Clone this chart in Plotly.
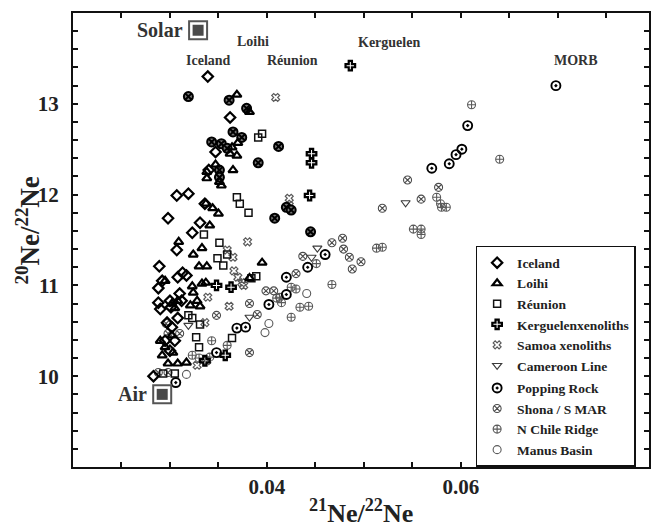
import plotly.graph_objects as go

# ---------------- data (21Ne/22Ne, 20Ne/22Ne) ----------------
iceland_x = [0.0339, 0.0362, 0.0347, 0.0340, 0.0307, 0.0319, 0.0298, 0.0323, 0.0307, 0.0289,
             0.0292, 0.0288, 0.0308, 0.0313, 0.0317, 0.0288, 0.0290, 0.0300, 0.0301, 0.0310,
             0.0312, 0.0302, 0.0295, 0.0283, 0.0308, 0.0297, 0.0305, 0.0300, 0.0336, 0.0331]
iceland_y = [13.30, 12.85, 12.47, 12.27, 11.99, 12.01, 11.74, 11.58, 11.39, 11.21,
             11.05, 10.97, 11.09, 11.14, 11.11, 10.81, 10.74, 10.83, 10.76, 10.91,
             10.83, 10.54, 10.39, 10.00, 10.64, 10.59, 10.39, 10.28, 11.90, 11.69]

loihi_x = [0.0369, 0.0382, 0.0362, 0.0369, 0.0364, 0.0370, 0.0347, 0.0338, 0.0338, 0.0351,
           0.0353, 0.0365, 0.0337, 0.0344, 0.0350, 0.0341, 0.0309, 0.0324, 0.0333, 0.0330,
           0.0338, 0.0395, 0.0295, 0.0323, 0.0333, 0.0337, 0.0382, 0.0324, 0.0328, 0.0321,
           0.0331, 0.0308, 0.0305, 0.0302, 0.0292, 0.0303, 0.0295, 0.0298, 0.0308, 0.0317,
           0.0302, 0.0290]
loihi_y = [13.10, 12.91, 12.45, 12.43, 12.52, 12.57, 12.33, 12.25, 12.18, 12.14,
           12.10, 12.27, 11.90, 11.85, 11.79, 11.66, 11.48, 11.34, 11.41, 11.21,
           11.21, 11.25, 11.05, 10.99, 11.02, 11.03, 11.08, 10.92, 10.83, 10.78,
           10.77, 10.83, 10.75, 10.80, 10.23, 10.26, 10.32, 10.14, 10.14, 10.15,
           10.45, 10.39]

reunion_x = [0.0391, 0.0395, 0.0369, 0.0372, 0.0381, 0.0335, 0.0351, 0.0349, 0.0359, 0.0355,
             0.0389, 0.0384, 0.0319, 0.0331, 0.0327, 0.0330, 0.0364, 0.0293, 0.0305, 0.0323]
reunion_y = [12.63, 12.67, 11.97, 11.90, 11.80, 11.56, 11.47, 11.30, 11.34, 11.22,
             11.10, 11.08, 10.67, 10.57, 10.43, 10.32, 10.42, 10.03, 10.03, 10.64]

kerg_x = [0.0486, 0.0446, 0.0446, 0.0444, 0.0348, 0.0363, 0.0357, 0.0336]
kerg_y = [13.42, 12.45, 12.35, 11.99, 11.00, 10.98, 10.23, 10.17]

samoa_x = [0.0409, 0.0423, 0.0423, 0.0380, 0.0365, 0.0359, 0.0366, 0.0374, 0.0376, 0.0370,
           0.0339, 0.0361, 0.0336, 0.0338, 0.0328]
samoa_y = [13.07, 11.96, 11.88, 11.48, 11.31, 11.39, 11.16, 11.03, 11.00, 11.09,
           10.87, 10.77, 10.59, 10.17, 10.12]

cameroon_x = [0.0543, 0.0452, 0.0446, 0.0382, 0.0319]
cameroon_y = [11.91, 11.41, 11.31, 10.65, 10.56]

popping_x = [0.0698, 0.0607, 0.0601, 0.0595, 0.0588, 0.0570, 0.0460, 0.0442, 0.0420, 0.0420,
             0.0402, 0.0378, 0.0369, 0.0348, 0.0306]
popping_y = [13.20, 12.76, 12.50, 12.44, 12.34, 12.29, 11.34, 11.20, 11.09, 10.90,
             10.79, 10.54, 10.53, 10.26, 9.93]

shona_x = [0.0545, 0.0577, 0.0559, 0.0519, 0.0467, 0.0478, 0.0479, 0.0485, 0.0497, 0.0488,
           0.0437, 0.0430, 0.0399, 0.0407, 0.0390, 0.0382, 0.0348, 0.0298, 0.0310, 0.0296,
           0.0288, 0.0298, 0.0382]
shona_y = [12.16, 12.08, 11.95, 11.85, 11.47, 11.52, 11.40, 11.31, 11.26, 11.18,
           11.32, 11.13, 10.94, 10.94, 10.68, 10.26, 10.67, 10.47, 10.47, 10.58,
           10.04, 10.04, 10.80]

shona_dark_x = [0.0319, 0.0361, 0.0379, 0.0365, 0.0374, 0.0412, 0.0391, 0.0343, 0.0353, 0.0359,
                0.0351, 0.0351, 0.0420, 0.0425, 0.0408, 0.0445]
shona_dark_y = [13.08, 13.04, 12.95, 12.69, 12.63, 12.53, 12.35, 12.58, 12.56, 12.51,
                12.27, 12.19, 11.86, 11.83, 11.74, 11.59]

chile_x = [0.0611, 0.0640, 0.0575, 0.0579, 0.0585, 0.0580, 0.0551, 0.0559, 0.0559, 0.0513,
           0.0519, 0.0451, 0.0467, 0.0425, 0.0430, 0.0415, 0.0410, 0.0443, 0.0425, 0.0413,
           0.0434, 0.0343, 0.0359, 0.0330, 0.0341, 0.0323]
chile_y = [12.99, 12.39, 11.97, 11.90, 11.86, 11.86, 11.62, 11.62, 11.56, 11.41,
           11.42, 11.24, 11.01, 10.98, 10.96, 10.81, 10.86, 10.77, 10.65, 10.87,
           10.76, 10.39, 10.34, 10.20, 10.21, 10.23]

manus_x = [0.0441, 0.0402, 0.0398, 0.0317]
manus_y = [10.91, 10.58, 10.48, 10.02]

ref_names = ["Solar", "Air"]
ref_x = [0.0329, 0.0292]
ref_y = [13.81, 9.80]

label_text = ["Iceland", "Loihi", "Réunion", "Kerguelen", "MORB"]
label_x = [0.0340, 0.0386, 0.0426, 0.0526, 0.0719]
label_y = [13.48, 13.69, 13.48, 13.68, 13.48]

x_tickvals = [0.04, 0.06]
x_ticktext = ["0.04", "0.06"]
y_tickvals = [10, 11, 12, 13]
y_ticktext = ["10", "11", "12", "13"]

# ---------------- figure ----------------
SERIF = "Liberation Serif"
fig = go.Figure()

def add(name, xs, ys, symbol, size, color, lw, group="a", rank=1):
    fig.add_trace(go.Scatter(
        x=xs, y=ys, mode="markers", name=name, legendgroup=group, legendrank=rank,
        marker=dict(symbol=symbol, size=size, color=color,
                    line=dict(color=color, width=lw))))

# grey series first (underneath)
add("N Chile Ridge", chile_x, chile_y, "circle-cross-open", 8, "#5a5a5a", 1.1, group="b", rank=9)
add("Manus Basin", manus_x, manus_y, "circle-open", 8, "#5a5a5a", 1.1, group="b", rank=10)
add("Shona / S MAR", shona_x, shona_y, "circle-x-open", 8, "#4a4a4a", 1.1, group="b", rank=8)
add("Samoa xenoliths", samoa_x, samoa_y, "x-open", 7, "#5a5a5a", 1.2, group="a", rank=5)
add("Cameroon Line", cameroon_x, cameroon_y, "triangle-down-open", 8, "#3a3a3a", 1.1, group="a", rank=6)
add("Réunion", reunion_x, reunion_y, "square-open", 7, "#111111", 1.5, group="a", rank=3)
fig.add_trace(go.Scatter(
    x=shona_dark_x, y=shona_dark_y, mode="markers", showlegend=False,
    marker=dict(symbol="circle-x", size=9, color="#777777",
                line=dict(color="#000000", width=2))))
add("Iceland", iceland_x, iceland_y, "diamond-open", 8, "#000000", 2.2, group="a", rank=1)
add("Loihi", loihi_x, loihi_y, "triangle-up-open", 8, "#000000", 2.2, group="a", rank=2)
add("Kerguelenxenoliths", kerg_x, kerg_y, "cross-open", 8, "#000000", 2.2, group="a", rank=4)
add("Popping Rock", popping_x, popping_y, "circle-open-dot", 9, "#000000", 1.9, group="b", rank=7)

# Solar / Air reference squares
fig.add_trace(go.Scatter(x=ref_x, y=ref_y, mode="markers", showlegend=False,
                         marker=dict(symbol="square", size=18, color="#ffffff",
                                     line=dict(color="#555555", width=2))))
fig.add_trace(go.Scatter(x=ref_x, y=ref_y, mode="markers", showlegend=False,
                         marker=dict(symbol="square", size=11, color="#4a4a4a",
                                     line=dict(width=0))))

for n, xv, yv in zip(ref_names, ref_x, ref_y):
    fig.add_annotation(x=xv, y=yv, text=n, showarrow=False, xanchor="right", yanchor="middle",
                       xshift=-13, font=dict(family=SERIF, size=20, color="#333333", weight="bold"))

for t, xv, yv in zip(label_text, label_x, label_y):
    fig.add_annotation(x=xv, y=yv, text=t, showarrow=False, xanchor="center", yanchor="middle",
                       font=dict(family=SERIF, size=14, color="#333333", weight="bold"))

# axis titles
fig.add_annotation(xref="paper", yref="paper", x=0.5, y=-0.058, yanchor="top",
                   text="<sup>21</sup>Ne/<sup>22</sup>Ne", showarrow=False,
                   font=dict(family=SERIF, size=26, color="#222222", weight="bold"))
fig.add_annotation(xref="paper", yref="paper", x=-0.046, y=0.52, xanchor="right",
                   text="<sup>20</sup>Ne/<sup>22</sup>Ne", showarrow=False, textangle=-90,
                   font=dict(family=SERIF, size=27, color="#222222", weight="bold"))

axis_common = dict(showline=True, linecolor="#111111", linewidth=2, mirror="ticks",
                   ticks="inside", ticklen=5, tickwidth=1.5, tickcolor="#111111",
                   showgrid=False, zeroline=False,
                   tickfont=dict(family=SERIF, size=21, color="#222222", weight="bold"))

fig.update_xaxes(range=[0.02, 0.0794], tickmode="array", tickvals=x_tickvals, ticktext=x_ticktext,
                 minor=dict(dtick=0.005, tick0=0.0, ticks="inside", ticklen=5, tickwidth=1.5,
                            tickcolor="#111111", showgrid=False),
                 ticklabelstandoff=0, **axis_common)
fig.update_yaxes(range=[9.0, 14.0], tickmode="array", tickvals=y_tickvals, ticktext=y_ticktext,
                 minor=dict(dtick=0.2, tick0=0.0, ticks="inside", ticklen=5, tickwidth=1.5,
                            tickcolor="#111111", showgrid=False),
                 ticklabelstandoff=8, **axis_common)

fig.update_layout(
    width=653, height=532,
    margin=dict(l=73, r=2, t=13, b=65),
    plot_bgcolor="white", paper_bgcolor="white",
    showlegend=True,
    legend=dict(x=0.699, y=0.487, xanchor="left", yanchor="top",
                bgcolor="white", bordercolor="#111111", borderwidth=1.5,
                traceorder="grouped", tracegroupgap=2,
                font=dict(family=SERIF, size=13.5, color="#222222", weight="bold")),
)

fig.write_html("out.html")
